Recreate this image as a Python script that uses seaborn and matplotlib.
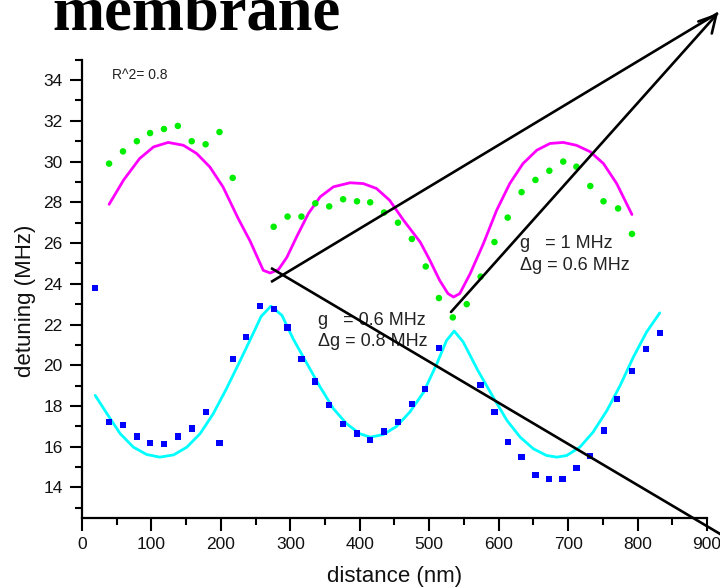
import matplotlib
matplotlib.use("Agg")
import matplotlib.pyplot as plt
from matplotlib.lines import Line2D
import numpy as np
import pandas as pd
import seaborn as sns

# ---- measured detuning vs. distance ----
upper_x = [39, 59, 79, 98, 118, 138, 158, 178, 198, 217, 276, 296, 316, 336, 356,
           376, 396, 415, 435, 455, 475, 495, 514, 534, 554, 574, 594, 613, 633,
           653, 673, 693, 712, 732, 751, 772, 792]
upper_y = [29.9, 30.5, 31.0, 31.4, 31.6, 31.75, 31.0, 30.85, 31.45, 29.2, 26.8,
           27.3, 27.3, 27.95, 27.8, 28.15, 28.05, 28.0, 27.5, 27.0, 26.2, 24.85,
           23.3, 22.35, 23.0, 24.35, 26.05, 27.25, 28.5, 29.1, 29.55, 30.0, 29.75,
           28.8, 28.05, 27.7, 26.45]

lower_x = [19, 39, 59, 79, 98, 118, 138, 158, 178, 198, 217, 236, 256, 276, 296,
           316, 336, 356, 376, 396, 415, 435, 455, 475, 494, 514, 574, 594, 613,
           633, 653, 673, 692, 712, 732, 752, 771, 792, 812, 832]
lower_y = [23.8, 17.2, 17.05, 16.5, 16.2, 16.15, 16.5, 16.9, 17.7, 16.2, 20.3,
           21.4, 22.9, 22.75, 21.85, 20.3, 19.2, 18.05, 17.1, 16.65, 16.35, 16.75,
           17.2, 18.1, 18.85, 20.85, 19.05, 17.7, 16.25, 15.5, 14.6, 14.4, 14.4,
           14.95, 15.55, 16.8, 18.35, 19.7, 20.8, 21.6]

# ---- fitted branches ----
fit_upper_x = [39, 60, 83, 103, 124, 146, 165, 184, 203, 225, 242, 261, 271, 283,
               295, 309, 326, 343, 362, 386, 405, 424, 443, 463, 487, 501, 515,
               527, 535, 544, 559, 578, 597, 616, 635, 655, 674, 693, 712, 732,
               751, 770, 792]
fit_upper_y = [27.9, 29.1, 30.15, 30.72, 30.94, 30.8, 30.4, 29.74, 28.76, 27.2,
               26.1, 24.66, 24.53, 24.7, 25.3, 26.3, 27.45, 28.27, 28.76, 28.96,
               28.92, 28.68, 28.1, 27.12, 26.05, 25.15, 24.17, 23.52, 23.35, 23.52,
               24.5, 25.97, 27.6, 28.92, 29.9, 30.56, 30.89, 30.94, 30.8, 30.48,
               29.9, 28.92, 27.4]

fit_lower_x = [19, 36, 55, 74, 93, 112, 132, 151, 170, 189, 208, 228, 247, 258,
               272, 288, 304, 324, 343, 362, 381, 400, 415, 434, 453, 472, 492,
               511, 525, 536, 549, 570, 592, 612, 631, 650, 669, 684, 698, 717,
               736, 756, 775, 794, 813, 832]
fit_lower_y = [18.52, 17.62, 16.64, 15.98, 15.62, 15.49, 15.6, 15.98, 16.64, 17.62,
               18.85, 20.24, 21.6, 22.4, 22.9, 22.45, 21.3, 20.08, 18.93, 17.87,
               17.13, 16.64, 16.47, 16.6, 17.0, 17.7, 18.68, 20.08, 21.22, 21.68,
               21.14, 19.75, 18.44, 17.29, 16.47, 15.9, 15.57, 15.49, 15.57, 15.98,
               16.72, 17.78, 19.01, 20.4, 21.63, 22.57]

x_ticks = list(range(0, 901, 100))
y_ticks = list(range(14, 35, 2))

pts_up = pd.DataFrame({"distance": upper_x, "detuning": upper_y})
pts_lo = pd.DataFrame({"distance": lower_x, "detuning": lower_y})
fit_up = pd.DataFrame({"distance": fit_upper_x, "detuning": fit_upper_y})
fit_lo = pd.DataFrame({"distance": fit_lower_x, "detuning": fit_lower_y})

sns.set_style("ticks")
plt.rcParams["font.family"] = ["Liberation Sans", "DejaVu Sans"]

W, H = 720, 588
fig = plt.figure(figsize=(W / 100, H / 100), dpi=100)
ax = fig.add_axes([0.1139, 0.119, 0.868, 0.7794])

sns.lineplot(data=fit_up, x="distance", y="detuning", ax=ax, sort=False,
             estimator=None, color="#ff00ff", linewidth=2.0, zorder=2)
sns.lineplot(data=fit_lo, x="distance", y="detuning", ax=ax, sort=False,
             estimator=None, color="#00ffff", linewidth=2.0, zorder=2)
sns.scatterplot(data=pts_up, x="distance", y="detuning", ax=ax, marker="o",
                s=22, color="#00ee00", edgecolor="none", zorder=3)
sns.scatterplot(data=pts_lo, x="distance", y="detuning", ax=ax, marker="s",
                s=20, color="#0000ff", edgecolor="none", zorder=3)

ax.set_xlim(0, 900)
ax.set_ylim(12.5, 35)
ax.set_xticks(x_ticks)
ax.set_xticks(range(50, 900, 100), minor=True)
ax.set_yticks(y_ticks)
ax.set_yticks(range(13, 36, 2), minor=True)
ax.tick_params(which="major", direction="out", length=9, width=1.5,
               labelsize=12.5, color="black", labelcolor="#111111", pad=5)
ax.tick_params(which="minor", direction="out", length=5, width=1.5, color="black")

sns.despine(ax=ax)
for side in ("left", "bottom"):
    ax.spines[side].set_linewidth(1.6)
    ax.spines[side].set_color("black")

ax.set_xlabel("distance (nm)", fontsize=16, color="#111111")
ax.set_ylabel("detuning (MHz)", fontsize=16, color="#111111")
ax.xaxis.set_label_coords(0.5, -0.1266)
ax.xaxis.label.set_va("center")
ax.yaxis.set_label_coords(-0.091, 0.475)
ax.yaxis.label.set_va("center")

ax.text(43, 34.25, "R^2= 0.8", fontsize=10, va="center", ha="left", color="#222222")

txt = dict(fontsize=13, va="center", ha="left", color="#222222")
ax.text(631, 25.99, "g   = 1 MHz", **txt)
ax.text(631, 24.91, "\u0394g = 0.6 MHz", **txt)
ax.text(340, 22.2, "g   = 0.6 MHz", **txt)
ax.text(340, 21.17, "\u0394g = 0.8 MHz", **txt)

# slide heading (partially above the frame)
fig.text(52 / W, 1 - 30 / H, "membrane", family=["Liberation Serif", "DejaVu Serif"],
         fontweight="bold", fontsize=45, ha="left", va="baseline", color="black")

# callout lines in figure pixels (x from left, y from top)
def fp(x, y):
    return (x / W, 1 - y / H)

tip = (718, 13)
for start, end in [((271, 282), tip), ((271, 268), (732, 541))]:
    (x0, y0), (x1, y1) = fp(*start), fp(*end)
    fig.add_artist(Line2D([x0, x1], [y0, y1], transform=fig.transFigure,
                          color="black", linewidth=1.9, solid_capstyle="butt"))
ax.annotate("", xy=fp(*tip), xytext=fp(451, 312), xycoords="figure fraction",
            textcoords="figure fraction", annotation_clip=False,
            arrowprops=dict(arrowstyle="->,head_length=1.2,head_width=0.65",
                            color="black", lw=1.9, shrinkA=0, shrinkB=0,
                            mutation_scale=10))

fig.savefig("out.png", dpi=100)
